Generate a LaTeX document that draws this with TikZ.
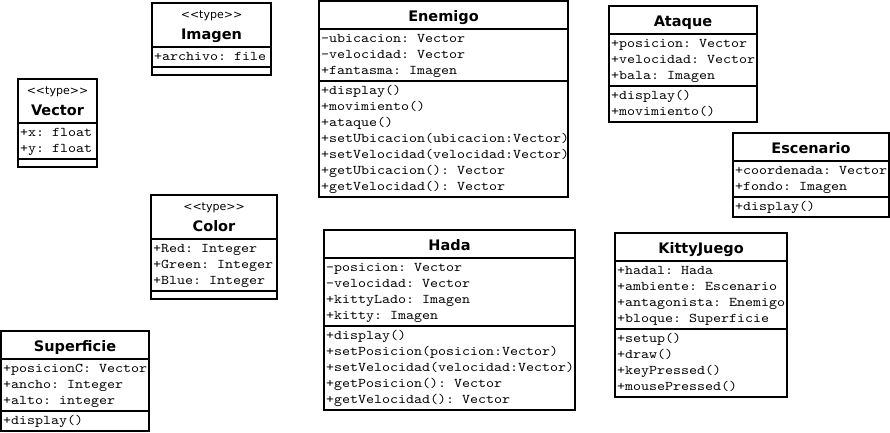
\documentclass[tikz,border=0pt]{standalone}
\usepackage{fontspec}
\setmainfont{DejaVu Sans}
\newfontfamily\headfont{DejaVu Sans}
\newfontfamily\codefont{lmmono10-regular.otf}[FakeStretch=1.143]
\frenchspacing
% one compartment row per list entry, 16pt apart, starting at a baseline
\newcommand\memberrows[4]{%
  \foreach \txt [count=\k from 0] in {#4}
    \node[member] (#1\k) at (#2, #3+16*\k) {\txt};}
\begin{document}
\begin{tikzpicture}[x=1pt, y=-1pt,
  boxline/.style={line width=1.8pt, line join=miter},
  classtitle/.style={anchor=base, inner sep=0pt, font=\headfont\bfseries\fontsize{14.5}{16}\selectfont},
  stereo/.style={anchor=base, inner sep=0pt, font=\headfont\fontsize{11}{12}\selectfont},
  member/.style={anchor=base west, inner sep=0pt, font=\codefont\fontsize{13.33}{16}\selectfont}]
\useasboundingbox (0,0) rectangle (890,432);
\fill[white] (0,0) rectangle (890,432);

% Vector
\draw[boxline] (18,79) rectangle (97,167);
\draw[boxline] (18,123) -- (97,123) (18,159) -- (97,159);
\node[stereo] (vector-st) at (57.5,94) {<\kern0pt<type>\kern0pt>};
\node[classtitle] (vector) at (57.5,115) {Vector};
\memberrows{vector-a}{20}{136}{+x: float, +y: float}

% Imagen
\draw[boxline] (152,3) rectangle (271,75);
\draw[boxline] (152,47) -- (271,47) (152,67) -- (271,67);
\node[stereo] (imagen-st) at (211.5,18) {<\kern0pt<type>\kern0pt>};
\node[classtitle] (imagen) at (211.5,39) {Imagen};
\memberrows{imagen-a}{154}{60}{+archivo: file}

% Color
\draw[boxline] (151,195) rectangle (277,299);
\draw[boxline] (151,239) -- (277,239) (151,291) -- (277,291);
\node[stereo] (color-st) at (214,210) {<\kern0pt<type>\kern0pt>};
\node[classtitle] (color) at (214,231) {Color};
\memberrows{color-a}{153}{252}{+Red: Integer, +Green: Integer, +Blue: Integer}

% Enemigo
\draw[boxline] (319,1) rectangle (568,197);
\draw[boxline] (319,29) -- (568,29) (319,81) -- (568,81);
\node[classtitle] (enemigo) at (443.5,21) {Enemigo};
\memberrows{enemigo-a}{321}{42}{-ubicacion: Vector, -velocidad: Vector, +fantasma: Imagen}
\memberrows{enemigo-m}{321}{94}{+display(), +movimiento(), +ataque(), +setUbicacion(ubicacion:Vector), +setVelocidad(velocidad:Vector), +getUbicacion(): Vector, +getVelocidad(): Vector}

% Ataque
\draw[boxline] (609,6) rectangle (757,122);
\draw[boxline] (609,34) -- (757,34) (609,86) -- (757,86);
\node[classtitle] (ataque) at (683,26) {Ataque};
\memberrows{ataque-a}{611}{47}{+posicion: Vector, +velocidad: Vector, +bala: Imagen}
\memberrows{ataque-m}{611}{99}{+display(), +movimiento()}

% Escenario
\draw[boxline] (733,133) rectangle (889,217);
\draw[boxline] (733,161) -- (889,161) (733,197) -- (889,197);
\node[classtitle] (escenario) at (811,153) {Escenario};
\memberrows{escenario-a}{735}{174}{+coordenada: Vector, +fondo: Imagen}
\memberrows{escenario-m}{735}{210}{+display()}

% Hada
\draw[boxline] (324,230) rectangle (575,410);
\draw[boxline] (324,258) -- (575,258) (324,326) -- (575,326);
\node[classtitle] (hada) at (449.5,250) {Hada};
\memberrows{hada-a}{326}{271}{-posicion: Vector, -velocidad: Vector, +kittyLado: Imagen, +kitty: Imagen}
\memberrows{hada-m}{326}{339}{+display(), +setPosicion(posicion:Vector), +setVelocidad(velocidad:Vector), +getPosicion(): Vector, +getVelocidad(): Vector}

% KittyJuego
\draw[boxline] (615,233) rectangle (787,397);
\draw[boxline] (615,261) -- (787,261) (615,329) -- (787,329);
\node[classtitle] (kittyjuego) at (701,253) {KittyJuego};
\memberrows{kitty-a}{617}{274}{+hadal: Hada, +ambiente: Escenario, +antagonista: Enemigo, +bloque: Superficie}
\memberrows{kitty-m}{617}{342}{+setup(), +draw(), +keyPressed(), +mousePressed()}

% Superficie
\draw[boxline] (1,331) rectangle (149,431);
\draw[boxline] (1,359) -- (149,359) (1,411) -- (149,411);
\node[classtitle] (superficie) at (75,351) {Superficie};
\memberrows{superficie-a}{3}{372}{+posicionC: Vector, +ancho: Integer, +alto: integer}
\memberrows{superficie-m}{3}{424}{+display()}
\end{tikzpicture}
\end{document}
